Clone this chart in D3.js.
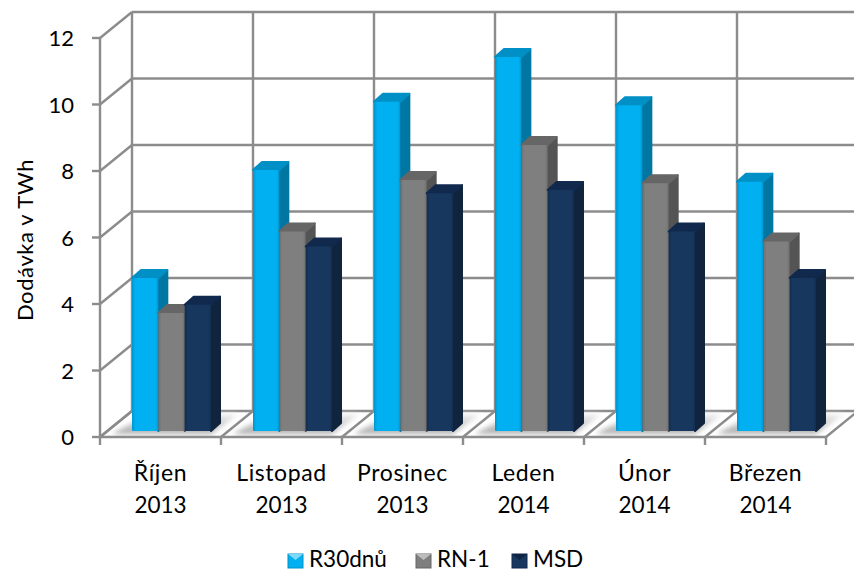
<!DOCTYPE html>
<html lang="cs">
<head>
<meta charset="UTF-8">
<title>Dodávka v TWh</title>
<style>
    html, body { margin: 0; padding: 0; background: #fff; }
    svg { display: block; }
    text { font-family: Lato, "Open Sans", sans-serif; fill: #000; }
</style>
</head>
<body>
<svg id="chart" width="854" height="572"></svg>
<script src="https://d3js.org/d3.v7.min.js"></script>
<script>
// values
const months = ["Říjen", "Listopad", "Prosinec", "Leden", "Únor", "Březen"];
const years = ["2013", "2013", "2013", "2014", "2014", "2014"];
const seriesNames = ["R30dnů", "RN-1", "MSD"];
const r30dnu = [4.6, 7.85, 9.9, 11.25, 9.8, 7.5];
const rn1 = [3.55, 6.0, 7.55, 8.6, 7.45, 5.7];
const msd = [3.8, 5.55, 7.15, 7.25, 6.0, 4.6];
const yTicks = [0, 2, 4, 6, 8, 10, 12];

const seriesValues = [r30dnu, rn1, msd];
const faceColors = [
    { edge: "#0095cf", front: "#00b0f0", top: "#0090c6", side: "#0076a3" },
    { edge: "#6e6e6e", front: "#7f7f7f", top: "#666666", side: "#545454" },
    { edge: "#122d4e", front: "#17375e", top: "#10294d", side: "#10243e" }
];

const svg = d3.select("#chart");
const defs = svg.append("defs");

// layout
const frontLeft = 100, frontRight = 826;
const y0 = 437, y12 = 38;
const wallDx = 32, wallDy = -26;   // front of the box to back wall
const barBase = -6;                // bars stand a little behind the front edge
const depthX = 9, depthY = -8;     // how deep one bar is

const x = d3.scaleBand().domain(months).range([frontLeft, frontRight]);
const y = d3.scaleLinear().domain([0, 12]).range([y0, y12]);
const xInner = d3.scaleBand().domain(seriesNames).range([32, 111]);

const gridColor = "#8c8c8c";

// gradients for bar fronts and the floor shadow
faceColors.forEach((c, i) => {
    const g = defs.append("linearGradient").attr("id", "front" + i);
    g.append("stop").attr("offset", "0").attr("stop-color", c.edge);
    g.append("stop").attr("offset", "0.12").attr("stop-color", c.front);
    g.append("stop").attr("offset", "0.9").attr("stop-color", c.front);
    g.append("stop").attr("offset", "1").attr("stop-color", c.edge);
});
const sh = defs.append("linearGradient").attr("id", "shadow").attr("x1", 0).attr("x2", 0).attr("y1", 1).attr("y2", 0);
sh.append("stop").attr("offset", "0").attr("stop-color", "#a8a8a8");
sh.append("stop").attr("offset", "1").attr("stop-color", "#f2f2f2");
const blur = defs.append("filter").attr("id", "soft").attr("x", "-10%").attr("width", "120%").attr("y", "-20%").attr("height", "140%");
blur.append("feGaussianBlur").attr("stdDeviation", 2.5);

const wall = svg.append("g").attr("stroke", gridColor).attr("stroke-width", 2.4).attr("fill", "none");

// back wall gridlines and their run along the side wall
wall.selectAll(".back").data(yTicks).join("line")
    .attr("x1", frontLeft + wallDx).attr("x2", 858)
    .attr("y1", d => y(d) + wallDy).attr("y2", d => y(d) + wallDy);
wall.selectAll(".sideWall").data(yTicks).join("line")
    .attr("x1", frontLeft).attr("x2", frontLeft + wallDx)
    .attr("y1", d => y(d)).attr("y2", d => y(d) + wallDy);

// verticals on the back wall and floor diagonals
const xEdges = months.map(m => x(m)).concat([frontRight]);
wall.selectAll(".vert").data(xEdges.slice(0, -1)).join("line")
    .attr("x1", d => d + wallDx).attr("x2", d => d + wallDx)
    .attr("y1", y(12) + wallDy).attr("y2", y(0) + wallDy);
wall.selectAll(".floorDiag").data(xEdges).join("line")
    .attr("x1", d => d).attr("x2", d => d + wallDx)
    .attr("y1", y0).attr("y2", y0 + wallDy);

// floor shadows under each group
svg.append("g").selectAll("path").data(months).join("path")
    .attr("d", m => {
        const l = x(m) + 12, r = x(m) + x.bandwidth() - 4;
        return `M${l},${y0 - 3}L${r - 6},${y0 - 3}L${r + 22},${y0 - 23}L${l + 36},${y0 - 23}Z`;
    })
    .attr("fill", "url(#shadow)")
    .attr("filter", "url(#soft)");

// front axes
const axisG = svg.append("g").attr("stroke", gridColor).attr("stroke-width", 2.4);
axisG.append("line").attr("x1", frontLeft).attr("x2", frontLeft).attr("y1", y12).attr("y2", y0);
axisG.append("line").attr("x1", frontLeft - 1).attr("x2", frontRight + 1).attr("y1", y0).attr("y2", y0);
axisG.selectAll(".ty").data(yTicks).join("line")
    .attr("x1", frontLeft - 8).attr("x2", frontLeft)
    .attr("y1", d => y(d)).attr("y2", d => y(d));
axisG.selectAll(".tx").data(xEdges).join("line")
    .attr("x1", d => d).attr("x2", d => d)
    .attr("y1", y0).attr("y2", y0 + 8);

// bars
const barData = months.flatMap((m, i) => seriesNames.map((s, k) => ({ month: m, series: s, k, value: seriesValues[k][i] })));
const bars = svg.append("g").selectAll("g").data(barData).join("g");

const barLeft = d => x(d.month) + xInner(d.series);
const barRight = d => barLeft(d) + xInner.bandwidth();
const barTop = d => y(d.value) + barBase;
const barBottom = y(0) + barBase;

bars.append("path")
    .attr("d", d => `M${barRight(d)},${barTop(d)}L${barRight(d) + depthX},${barTop(d) + depthY}L${barRight(d) + depthX},${barBottom + depthY}L${barRight(d)},${barBottom}Z`)
    .attr("fill", d => faceColors[d.k].side)
    .attr("stroke", d => faceColors[d.k].side)
    .attr("stroke-width", 2)
    .attr("stroke-linejoin", "round");
bars.append("path")
    .attr("d", d => `M${barLeft(d)},${barTop(d)}L${barLeft(d) + depthX},${barTop(d) + depthY}L${barRight(d) + depthX},${barTop(d) + depthY}L${barRight(d)},${barTop(d)}Z`)
    .attr("fill", d => faceColors[d.k].top)
    .attr("stroke", d => faceColors[d.k].top)
    .attr("stroke-width", 2)
    .attr("stroke-linejoin", "round");
bars.append("rect")
    .attr("x", barLeft)
    .attr("y", barTop)
    .attr("width", xInner.bandwidth())
    .attr("height", d => barBottom - barTop(d))
    .attr("rx", 1)
    .attr("fill", d => `url(#front${d.k})`);

// tick labels
svg.append("g").selectAll("text").data(yTicks).join("text")
    .attr("x", 74).attr("y", d => y(d) + 8)
    .attr("text-anchor", "end")
    .attr("font-size", 22)
    .text(d => d);

const labels = svg.append("g").selectAll("text").data(months).join("text")
    .attr("text-anchor", "middle");
labels.append("tspan")
    .attr("x", m => x(m) + x.bandwidth() / 2)
    .attr("y", 481)
    .attr("font-size", 23)
    .attr("letter-spacing", 0.6)
    .text(m => m);
labels.append("tspan")
    .attr("x", m => x(m) + x.bandwidth() / 2)
    .attr("y", 513)
    .attr("font-size", 22.5)
    .text((m, i) => years[i]);

svg.append("text")
    .attr("transform", "translate(33,240) rotate(-90)")
    .attr("text-anchor", "middle")
    .attr("font-size", 22)
    .attr("letter-spacing", 0.6)
    .text("Dodávka v TWh");

// legend
const legendX = d3.scaleOrdinal().domain(seriesNames).range([288, 416, 512]);
const legend = svg.append("g").selectAll("g").data(seriesNames).join("g")
    .attr("transform", d => `translate(${legendX(d)},554)`);
legend.append("rect").attr("width", 15).attr("height", 14)
    .attr("fill", (d, i) => faceColors[i].front)
    .attr("stroke", (d, i) => faceColors[i].top).attr("stroke-width", 1);
legend.append("path").attr("d", "M0,0L15,0L7.5,6Z")
    .attr("fill", (d, i) => i === 0 ? "#7fd8f8" : i === 1 ? "#bdbdbd" : "#0f2442");
legend.append("text")
    .attr("x", 21).attr("y", 13)
    .attr("font-size", 22.5)
    .text(d => d);
</script>
</body>
</html>
